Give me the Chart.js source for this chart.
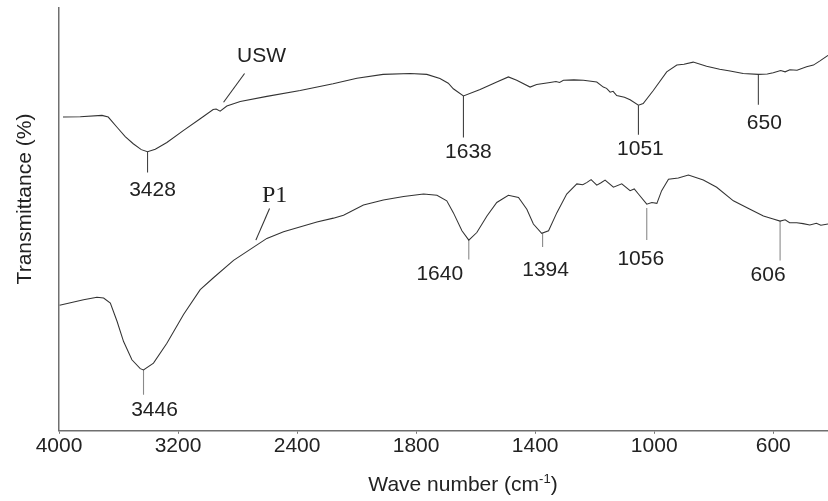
<!DOCTYPE html>
<html>
<head>
<meta charset="utf-8">
<script src="https://cdn.jsdelivr.net/npm/chart.js@4.4.1/dist/chart.umd.min.js"></script>
<style>
  html, body { margin: 0; padding: 0; background: #ffffff; }
  #wrap { width: 828px; height: 501px; }
</style>
</head>
<body>
<div id="wrap"><canvas id="c" width="828" height="501"></canvas></div>
<script>
// ---------- data (wavenumber in cm-1, transmittance in arbitrary % units) ----------
const tickLabels = [4000, 3200, 2400, 1800, 1400, 1000, 600];

const uswWn = [3973,3857,3711,3669,3610,3555,3501,3447,3405,3353,3275,3165,3051,2964,2944,2917,2872,2782,2603,2379,2158,1999,1911,1820,1764,1720,1692,1675,1641,1585,1529,1490,1462,1417,1395,1350,1330,1318,1305,1270,1238,1193,1171,1160,1148,1138,1126,1100,1081,1053,1037,1003,958,924,900,869,824,780,745,701,650,620,600,575,560,544,520,488,465,443,416];
const uswT  = [74.2,74.3,74.6,74.2,71.8,69.6,67.9,66.5,66.0,66.6,68.2,71.0,73.8,76.0,76.1,75.6,76.8,77.9,79.1,80.5,82.1,83.4,84.3,84.5,84.3,83.3,82.2,80.9,79.2,80.7,82.5,83.7,82.9,81.3,81.9,82.4,82.6,82.4,82.9,83.0,82.9,82.5,81.3,81.0,80.1,80.3,79.3,78.9,78.3,77.0,77.4,80.5,84.9,86.5,86.7,87.2,86.2,85.5,85.1,84.5,84.3,84.4,84.7,85.2,84.9,85.4,85.3,86.1,86.5,87.5,88.8];

const p1Wn = [3996,3835,3745,3700,3655,3610,3566,3510,3454,3432,3365,3275,3163,3051,2962,2827,2715,2603,2491,2267,2156,2088,1977,1910,1842,1775,1730,1697,1675,1646,1623,1596,1562,1529,1490,1456,1428,1406,1378,1355,1327,1294,1260,1240,1227,1212,1193,1180,1165,1137,1109,1081,1067,1053,1025,1008,991,975,952,919,885,835,790,734,678,633,600,577,560,545,521,500,477,455,440,416];
const p1T  = [29.7,31.0,31.6,31.4,30.2,25.9,21.1,16.8,14.7,14.4,16.0,20.7,27.5,33.4,36.2,40.3,42.9,45.5,47.1,49.4,50.3,51.0,53.4,54.6,55.4,56.0,55.7,54.4,51.6,47.3,45.1,46.9,50.8,54.0,55.7,55.2,52.4,48.9,46.7,47.3,51.6,56.0,58.4,58.2,58.7,59.4,58.1,58.6,59.3,57.6,58.4,56.8,57.2,56.0,53.6,54.0,53.8,56.8,59.5,59.8,60.5,59.3,57.6,54.4,52.4,50.8,50.1,49.6,49.9,49.2,49.2,49.0,48.7,49.1,48.6,48.9];

// peak markers: label text, wavenumber of the marker, transmittance at top and bottom of the marker line
const peakText   = ['3428','1638','1051','650','3446','1640','1394','1056','606'];
const peakWn     = [3405, 1641, 1053, 650, 3432, 1623, 1375, 1025, 577];
const peakTop    = [66.0, 79.2, 77.0, 84.3, 14.4, 45.1, 46.7, 52.7, 49.6];
const peakBottom = [61.1, 69.4, 70.0, 77.1, 8.5, 40.5, 43.5, 45.1, 40.3];
const peakSeries = ['USW','USW','USW','USW','P1','P1','P1','P1','P1'];

// series name labels with leader lines (start near text, end at curve)
const seriesNames   = ['USW', 'P1'];
const leaderFromWn  = [2753, 2585];
const leaderFromT   = [84.5, 52.6];
const leaderToWn    = [2894, 2677];
const leaderToT     = [77.7, 45.1];

// ---------- layout / style (not data) ----------
const peakLabelDx = [5, 5, 2, 6, 11, -29, 3, -6, -12];
const peakLabelDy = [18, 15, 14, 18, 15, 15, 23, 19, 15];
const nameDx = [17, 5];
const nameDy = [-17, -13];
const FONT = "'Liberation Sans', Arial, Helvetica, sans-serif";

// axis break: 4000-2000 at 1x, 2000-400 expanded 2x
function toAxis(w) { return w >= 2000 ? 4000 - w : 2000 + 2 * (2000 - w); }
function fromAxis(u) { return u <= 2000 ? 4000 - u : 3000 - u / 2; }

function series(wn, t) { return wn.map((w, i) => ({ x: toAxis(w), y: t[i] })); }

const datasets = [
  { data: series(uswWn, uswT), borderColor: '#333', borderWidth: 1.05 },
  { data: series(p1Wn, p1T), borderColor: '#333', borderWidth: 1.05 }
];
peakWn.forEach((w, i) => {
  datasets.push({
    data: [{ x: toAxis(w), y: peakTop[i] }, { x: toAxis(w), y: peakBottom[i] }],
    borderColor: peakSeries[i] === 'USW' ? '#444' : '#8a8a8a', borderWidth: 1.1
  });
});
seriesNames.forEach((n, i) => {
  datasets.push({
    data: [{ x: toAxis(leaderFromWn[i]), y: leaderFromT[i] }, { x: toAxis(leaderToWn[i]), y: leaderToT[i] }],
    borderColor: '#333', borderWidth: 1.1
  });
});
datasets.forEach(d => { d.pointRadius = 0; d.tension = 0; d.fill = false; });

const textPlugin = {
  id: 'texts',
  afterDraw(chart) {
    const ctx = chart.ctx, xs = chart.scales.x, ys = chart.scales.y;
    ctx.save();
    ctx.fillStyle = '#222';
    ctx.textAlign = 'center';
    ctx.textBaseline = 'middle';
    ctx.font = '21px ' + FONT;
    peakText.forEach((t, i) => {
      const px = xs.getPixelForValue(toAxis(peakWn[i])) + peakLabelDx[i];
      const py = ys.getPixelForValue(peakBottom[i]) + peakLabelDy[i];
      ctx.fillText(t, px, py);
    });
    seriesNames.forEach((n, i) => {
      const px = xs.getPixelForValue(toAxis(leaderFromWn[i])) + nameDx[i];
      const py = ys.getPixelForValue(leaderFromT[i]) + nameDy[i];
      ctx.font = n === 'P1' ? "24px 'Liberation Serif', 'Times New Roman', serif" : '21px ' + FONT;
      ctx.fillText(n, px, py);
    });
    // x-axis title with superscript
    ctx.font = '21px ' + FONT;
    const a = 'Wave number (cm', sup = '-1', b = ')';
    const wa = ctx.measureText(a).width, wb = ctx.measureText(b).width;
    ctx.font = '13px ' + FONT;
    const ws = ctx.measureText(sup).width;
    const total = wa + ws + wb;
    let x0 = 463 - total / 2;
    const yT = 485;
    ctx.textAlign = 'left';
    ctx.font = '21px ' + FONT;
    ctx.fillText(a, x0, yT);
    ctx.font = '13px ' + FONT;
    ctx.fillText(sup, x0 + wa, yT - 6);
    ctx.font = '21px ' + FONT;
    ctx.fillText(b, x0 + wa + ws, yT);
    // y-axis title
    ctx.translate(25, 199);
    ctx.rotate(-Math.PI / 2);
    ctx.textAlign = 'center';
    ctx.fillText('Transmittance (%)', 0, 0);
    ctx.restore();
  }
};

new Chart(document.getElementById('c'), {
  type: 'line',
  data: { datasets },
  options: {
    responsive: false,
    animation: false,
    parsing: true,
    layout: { padding: { left: 59, right: 0, top: 8, bottom: 42 } },
    plugins: { legend: { display: false }, tooltip: { enabled: false }, title: { display: false } },
    scales: {
      x: {
        type: 'linear',
        min: 0,
        max: toAxis(416),
        afterBuildTicks: (axis) => { axis.ticks = tickLabels.map(w => ({ value: toAxis(w) })); },
        ticks: {
          autoSkip: false, maxRotation: 0, padding: 0, color: '#222',
          font: { family: FONT, size: 21 },
          callback: (v) => String(Math.round(fromAxis(v)))
        },
        grid: { display: true, drawOnChartArea: false, drawTicks: true, tickLength: 3, color: '#777', lineWidth: 1 },
        border: { display: true, color: '#6f6f6f', width: 1.5 }
      },
      y: {
        type: 'linear', min: 0, max: 100,
        ticks: { display: false },
        grid: { display: false, drawTicks: false },
        border: { display: true, color: '#6f6f6f', width: 1.5 }
      }
    }
  },
  plugins: [textPlugin]
});
</script>
</body>
</html>
